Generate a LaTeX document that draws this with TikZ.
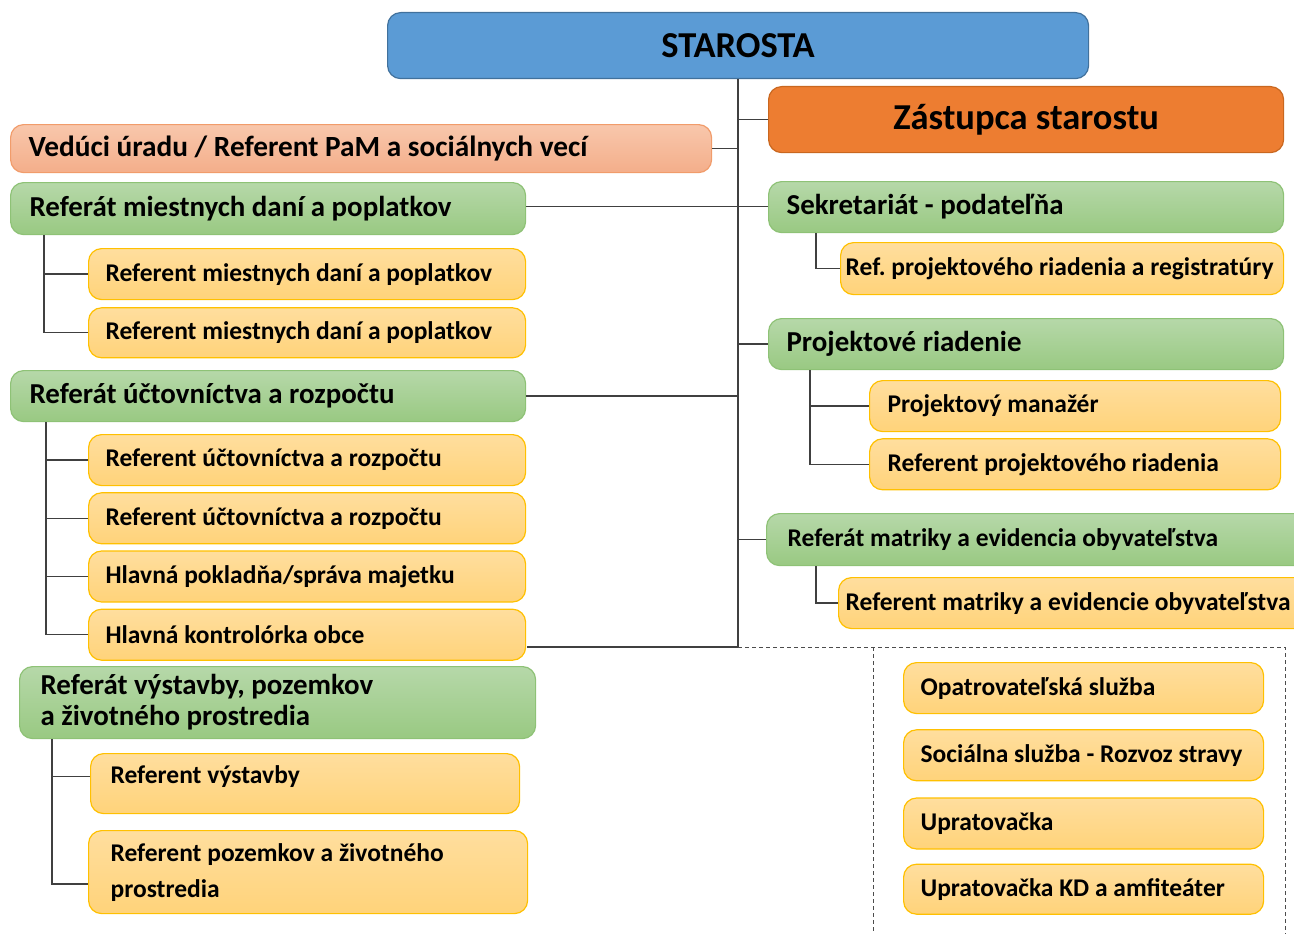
\documentclass[tikz,border=0pt]{standalone}
\usepackage{fontspec}
\setmainfont{Carlito}
\usetikzlibrary{positioning}
\usetikzlibrary{calc}

\definecolor{bossblue}{HTML}{5B9BD5}
\definecolor{bossline}{HTML}{41719C}
\definecolor{deporange}{HTML}{ED7D31}
\definecolor{depline}{HTML}{C9671F}
\definecolor{salmontop}{HTML}{F8C7AC}
\definecolor{salmonbot}{HTML}{F4AE8A}
\definecolor{salmonline}{HTML}{F19C6B}
\definecolor{greentop}{HTML}{B6D8A9}
\definecolor{greenbot}{HTML}{99C982}
\definecolor{greenline}{HTML}{8EC276}
\definecolor{yellowtop}{HTML}{FFDE9E}
\definecolor{yellowbot}{HTML}{FFD37A}
\definecolor{yellowline}{HTML}{FFC000}

\begin{document}
\begin{tikzpicture}[x=1pt, y=-1pt,
    box/.style={rectangle, rounded corners=13pt, line width=1.2pt, anchor=north west, inner ysep=0pt},
    BOSS/.style={box, fill=bossblue, draw=bossline, minimum width=701pt, minimum height=66pt, font=\bfseries\fontsize{36.5}{42}\selectfont},
    DEPUTY/.style={box, fill=deporange, draw=depline, minimum width=515pt, minimum height=66pt, font=\bfseries\fontsize{36.5}{42}\selectfont},
    HEAD/.style={box, top color=salmontop, bottom color=salmonbot, draw=salmonline, align=flush left, inner xsep=18pt, font=\bfseries\fontsize{29.3}{31}\selectfont},
    UNIT/.style={box, top color=greentop, bottom color=greenbot, draw=greenline, align=flush left, inner xsep=19pt, font=\bfseries\fontsize{28.9}{31}\selectfont},
    STAFF/.style={box, top color=yellowtop, bottom color=yellowbot, draw=yellowline, align=flush left, inner xsep=17pt, font=\bfseries\fontsize{25.5}{36}\selectfont},
    link/.style={draw=black!75, line width=1.3pt},
    outside/.style={draw=black!70, line width=1pt, dash pattern=on 4pt off 3pt},
    ]
        \useasboundingbox (0,0) rectangle (1294,934);

        % top of the office
        \node[BOSS] (boss) at (387,12) {STAROSTA};
        \node[DEPUTY] (deputy) at (768,86) {Zástupca starostu};
        \node[HEAD, text width=665pt, minimum height=48pt] (head) at (10,124) {Vedúci úradu / Referent PaM a sociálnych vecí};

        % left column
        \node[UNIT, text width=477pt, minimum height=52pt] (tax) at (10,182) {Referát miestnych daní a poplatkov};
        \node[STAFF, text width=403pt, minimum height=51pt] (tax1) at (88,248) {Referent miestnych daní a poplatkov};
        \node[STAFF, text width=403pt, minimum height=50pt, below = 7pt of tax1.south west, anchor=north west] (tax2) {Referent miestnych daní a poplatkov};

        \node[UNIT, text width=477pt, minimum height=51pt] (acc) at (10,370) {Referát účtovníctva a rozpočtu};
        \node[STAFF, text width=403pt, minimum height=51pt] (acc1) at (88,434) {Referent účtovníctva a rozpočtu};
        \node[STAFF, text width=403pt, minimum height=51pt, below = 6pt of acc1.south west, anchor=north west] (acc2) {Referent účtovníctva a rozpočtu};
        \node[STAFF, text width=403pt, minimum height=51pt, below = 6pt of acc2.south west, anchor=north west] (cash) {Hlavná pokladňa/správa majetku};
        \node[STAFF, text width=403pt, minimum height=51pt, below = 6pt of cash.south west, anchor=north west] (ctrl) {Hlavná kontrolórka obce};

        \node[UNIT, text width=474pt, minimum height=72pt, inner xsep=21pt] (build) at (19,666) {Referát výstavby, pozemkov\\a životného prostredia};
        \node[STAFF, text width=389pt, minimum height=60pt, inner xsep=20pt, text depth=18pt] (build1) at (90,753) {Referent výstavby};
        \node[STAFF, text width=395pt, minimum height=83pt, inner xsep=22pt] (build2) at (88,830) {Referent pozemkov a životného\\prostredia};

        % right column
        \node[UNIT, text width=479pt, minimum height=51pt, inner xsep=18pt] (secr) at (768,181) {Sekretariát - podateľňa};
        \node[STAFF, text width=433pt, minimum height=52pt, inner xsep=5pt] (secr1) at (840,242) {Ref.\ projektového riadenia a registratúry};

        \node[UNIT, text width=479pt, minimum height=51pt, inner xsep=18pt] (proj) at (768,318) {Projektové riadenie};
        \node[STAFF, text width=375pt, minimum height=51pt, inner xsep=18pt] (proj1) at (869,380) {Projektový manažér};
        \node[STAFF, text width=375pt, minimum height=51pt, inner xsep=18pt, below = 6pt of proj1.south west, anchor=north west] (proj2) {Referent projektového riadenia};

        \node[UNIT, text width=508pt, minimum height=52pt, inner xsep=21pt, font=\bfseries\fontsize{25.5}{31}\selectfont] (reg) at (766,513) {Referát matriky a evidencia obyvateľstva};
        \node[STAFF, text width=456pt, minimum height=51pt, inner xsep=7pt] (reg1) at (838,577) {Referent matriky a evidencie obyvateľstva};

        % outside the office
        \node[STAFF, text width=326pt, minimum height=51pt] (care) at (903,662) {Opatrovateľská služba};
        \node[STAFF, text width=326pt, minimum height=51pt, below = 15pt of care.south west, anchor=north west] (meal) {Sociálna služba - Rozvoz stravy};
        \node[STAFF, text width=326pt, minimum height=51pt, below = 16pt of meal.south west, anchor=north west] (clean) {Upratovačka};
        \node[STAFF, text width=326pt, minimum height=50pt, below = 14pt of clean.south west, anchor=north west] (clean2) {Upratovačka KD a amfiteáter};

        \coordinate (tail) at (527,647);
        \coordinate (dashL) at (873,934);
        \coordinate (dashR) at (1285,934);
        \coordinate (b1in) at ([yshift=7pt]build1.west);
        \coordinate (b2in) at ([yshift=-12pt]build2.west);

        % main trunk
        \draw[link] (boss.south) |- (tail);
        \draw[link] (deputy.west) -- (deputy.west -| boss.south);
        \draw[link] (head.east) -- (head.east -| boss.south);
        \draw[link] ([yshift=2pt]tax.east) -- ([yshift=2pt]tax.east -| secr.west);
        \draw[link] (acc.east) -- (acc.east -| boss.south);
        \draw[link] (proj.west) -- (proj.west -| boss.south);
        \draw[link] (reg.west) -- (reg.west -| boss.south);
        \draw[outside] (boss.south |- tail) -| (dashR);
        \draw[outside] (dashL |- tail) -- (dashL);

        % branches left
        \draw[link] ([xshift=34pt]tax.south west) |- (tax2.west);
        \draw[link] ([xshift=34pt]tax.south west |- tax1.west) -- (tax1.west);
        \draw[link] ([xshift=36pt]acc.south west) |- (ctrl.west);
        \foreach \n in {acc1, acc2, cash}
            \draw[link] ([xshift=36pt]acc.south west |- \n.west) -- (\n.west);
        \draw[link] ([xshift=33pt]build.south west) |- (b2in);
        \draw[link] ([xshift=33pt]build.south west |- b1in) -- (b1in);

        % branches right
        \draw[link] ([xshift=48pt]secr.south west) |- (secr1.west);
        \draw[link] ([xshift=42pt]proj.south west) |- (proj2.west);
        \draw[link] ([xshift=42pt]proj.south west |- proj1.west) -- (proj1.west);
        \draw[link] ([xshift=50pt]reg.south west) |- (reg1.west);
    \end{tikzpicture}
\end{document}
